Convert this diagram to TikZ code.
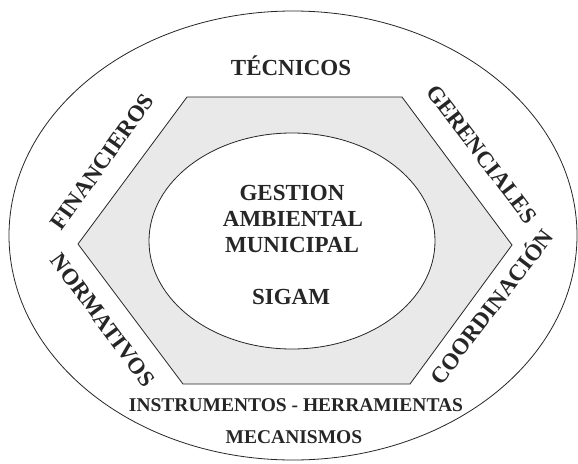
\documentclass[tikz,border=0pt]{standalone}
\usepackage{fontspec}
\setmainfont{Liberation Serif}
\begin{document}
\begin{tikzpicture}[x=1pt,y=-1pt,
  shapeline/.style={draw=black!85, line width=0.8pt},
  lbl/.style={font=\fontsize{23}{27}\selectfont\bfseries, text=black!85, inner sep=0pt, text height=15.2pt, text depth=0pt},
  lblsmall/.style={font=\fontsize{19.5}{22}\selectfont\bfseries, text=black!85, inner sep=0pt, text height=12.9pt, text depth=0pt}]
\useasboundingbox (0,0) rectangle (578,463);
\fill[white] (0,0) rectangle (578,463);
% outer ellipse
\draw[shapeline] (293,235.5) ellipse [x radius=284pt, y radius=224.5pt];
% hexagon
\draw[shapeline, fill=gray!17] (187,97) -- (402,97) -- (512,245) -- (410,384) -- (183,384) -- (78,244) -- cycle;
% inner ellipse
\draw[shapeline, fill=white] (292,241) ellipse [x radius=143pt, y radius=108pt];
% texts
\node[lbl] (tec) at (291,68) {TÉCNICOS};
\node[lbl] (ges) at (292,193) {GESTION};
\node[lbl] (amb) at (293,219) {AMBIENTAL};
\node[lbl] (mun) at (292,245) {MUNICIPAL};
\node[lbl] (sig) at (291,297) {SIGAM};
\node[lbl, rotate=54.5] (fin) at (102,162) {FINANCIEROS};
\node[lbl, rotate=-52.7] (ger) at (482,154) {GERENCIALES};
\node[lbl, rotate=-53.5] (nor) at (103,320) {NORMATIVOS};
\node[lbl, rotate=52.6] (coo) at (492,307) {COORDINACIÓN};
\node[lblsmall] (ins) at (296,405) {INSTRUMENTOS - HERRAMIENTAS};
\node[lblsmall] (mec) at (294,437) {MECANISMOS};
\end{tikzpicture}
\end{document}
